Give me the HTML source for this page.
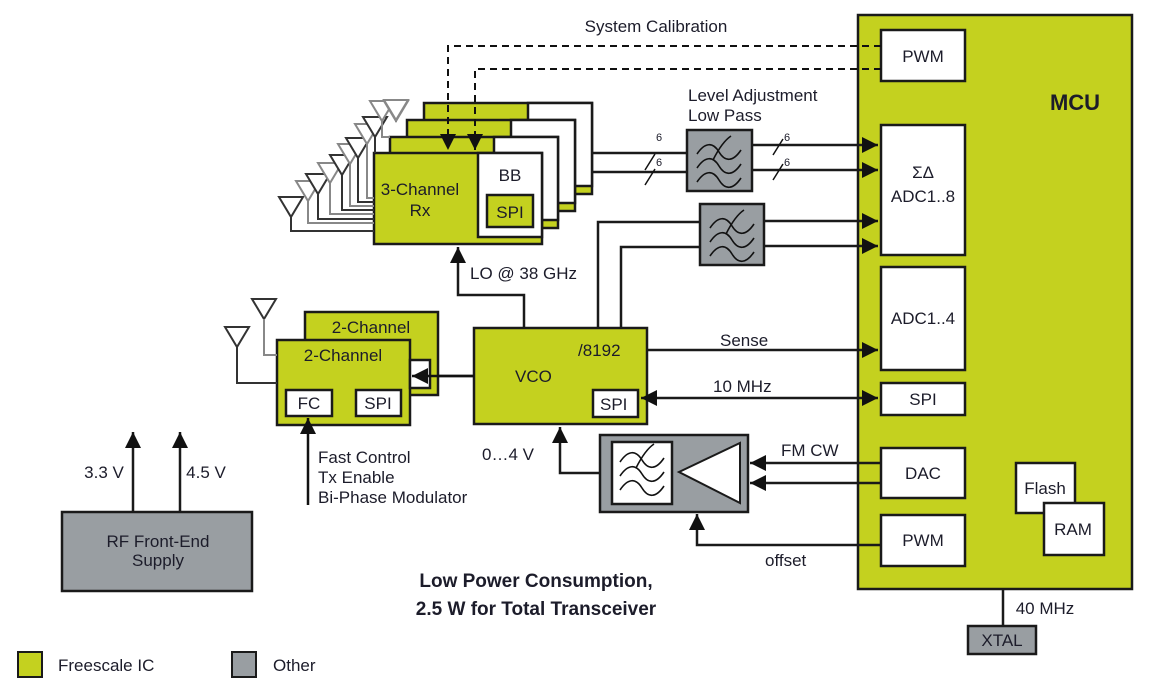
<!DOCTYPE html>
<html><head><meta charset="utf-8"><style>
html,body{margin:0;padding:0;background:#fff}
svg{display:block}
text{font-family:"Liberation Sans",Arial,sans-serif;fill:#1c1c2a}
</style></head><body>
<svg width="1150" height="692" viewBox="0 0 1150 692" xmlns="http://www.w3.org/2000/svg">
<defs>
<marker id="a" viewBox="0 0 10 10" refX="10" refY="5" markerWidth="7" markerHeight="7" orient="auto" markerUnits="userSpaceOnUse"><path d="M0,0L10,5L0,10z" fill="#111"/></marker>
<marker id="ar" viewBox="0 0 10 10" refX="10" refY="5" markerWidth="16" markerHeight="16" orient="auto-start-reverse" markerUnits="userSpaceOnUse"><path d="M0,0L10,5L0,10z" fill="#111"/></marker>
<g id="flt" fill="none" stroke="#111" stroke-width="1.6">
<path d="M-22,-8 C-14,-20 -6,-20 0,-10 C6,0 14,0 22,-12"/>
<path d="M-22,6 C-14,-6 -6,-6 0,4 C6,14 14,14 22,2"/>
<path d="M-22,20 C-14,8 -6,8 0,18 C6,28 14,28 22,16"/>
<path d="M-6,-2 C0,-14 6,-22 12,-26"/>
</g>
</defs>
<g stroke="#1a1a1a" stroke-width="2.5">
<!-- MCU -->
<rect x="858" y="15" width="274" height="574" fill="#c4d11f"/>
<rect x="881" y="30" width="84" height="51" fill="#fff"/>
<rect x="881" y="125" width="84" height="130" fill="#fff"/>
<rect x="881" y="267" width="84" height="103" fill="#fff"/>
<rect x="881" y="383" width="84" height="32" fill="#fff"/>
<rect x="881" y="448" width="84" height="50" fill="#fff"/>
<rect x="881" y="515" width="84" height="51" fill="#fff"/>
<rect x="1016" y="463" width="59" height="50" fill="#fff"/>
<rect x="1044" y="503" width="60" height="52" fill="#fff"/>
<rect x="968" y="626" width="68" height="28" fill="#999ea2"/>
<line x1="1003" y1="589" x2="1003" y2="626"/>
</g>
<g font-size="17" text-anchor="middle">
<text x="1075" y="110" font-weight="bold" font-size="22">MCU</text>
<text x="923" y="62">PWM</text>
<text x="923" y="178">ΣΔ</text>
<text x="923" y="202">ADC1..8</text>
<text x="923" y="324">ADC1..4</text>
<text x="923" y="405">SPI</text>
<text x="923" y="479">DAC</text>
<text x="923" y="546">PWM</text>
<text x="1045" y="494">Flash</text>
<text x="1073" y="535">RAM</text>
<text x="1002" y="646">XTAL</text>
<text x="1045" y="614">40 MHz</text>
</g>
<!-- Rx stack -->
<g stroke="#1a1a1a" stroke-width="2.5">
<rect x="424" y="103" width="168" height="91" fill="#c4d11f"/><rect x="528" y="103" width="64" height="83" fill="#fff"/><rect x="548" y="145" width="18" height="32" fill="#c4d11f" stroke-width="2"/>
<rect x="407" y="120" width="168" height="91" fill="#c4d11f"/><rect x="511" y="120" width="64" height="83" fill="#fff"/><rect x="531" y="162" width="18" height="32" fill="#c4d11f" stroke-width="2"/>
<rect x="390" y="137" width="168" height="91" fill="#c4d11f"/><rect x="494" y="137" width="64" height="83" fill="#fff"/><rect x="514" y="179" width="18" height="32" fill="#c4d11f" stroke-width="2"/>
<rect x="374" y="153" width="168" height="91" fill="#c4d11f"/><rect x="478" y="153" width="64" height="84" fill="#fff"/><rect x="487" y="195" width="46" height="32" fill="#c4d11f"/>
</g>
<g font-size="17" text-anchor="middle">
<text x="420" y="195">3-Channel</text><text x="420" y="216">Rx</text>
<text x="510" y="181">BB</text><text x="510" y="218">SPI</text>
</g>
<!-- antennas -->
<g fill="#fff" stroke-width="2">
<g stroke="#333"><path d="M279,197h24l-12,20z"/><path d="M291,217v14h83" fill="none"/></g>
<g stroke="#888"><path d="M296,181h24l-12,20z"/><path d="M308,201v22h66" fill="none"/></g>
<g stroke="#333"><path d="M306,174h24l-12,20z"/><path d="M318,194v25h56" fill="none"/></g>
<g stroke="#888"><path d="M318,163h24l-12,20z"/><path d="M330,183v31h44" fill="none"/></g>
<g stroke="#333"><path d="M330,155h24l-12,20z"/><path d="M342,175v35h32" fill="none"/></g>
<g stroke="#888"><path d="M338,144h24l-12,20z"/><path d="M350,164v42h24" fill="none"/></g>
<g stroke="#333"><path d="M346,138h24l-12,20z"/><path d="M358,158v44h16" fill="none"/></g>
<g stroke="#888"><path d="M355,124h24l-12,20z"/><path d="M367,144v54h7" fill="none"/></g>
<g stroke="#333"><path d="M363,117h24l-12,20z"/><path d="M375,137v16" fill="none"/></g>
<g stroke="#888"><path d="M370,101h24l-12,20z"/><path d="M382,121v16h8" fill="none"/></g>
<g stroke="#333"><path d="M384,101h24l-12,20z" stroke="#888"/><path d="M396,121v-0" fill="none"/></g>
<g stroke="#888"><path d="M384,100h24l-12,20z"/><path d="M396,120v2" fill="none"/></g>
</g>
<!-- dashed calibration -->
<g fill="none" stroke="#111" stroke-width="2" stroke-dasharray="7,5">
<path d="M881,46H448V150" marker-end="url(#ar)"/>
<path d="M881,69H475V150" marker-end="url(#ar)"/>
</g>
<text x="656" y="32" font-size="17" text-anchor="middle">System Calibration</text>
<!-- filters -->
<g stroke="#1a1a1a" stroke-width="2.5" fill="none">
<path d="M592,153H687M592,172H687"/>
<path d="M752,145H878" marker-end="url(#ar)"/><path d="M752,170H878" marker-end="url(#ar)"/>
<path d="M598,328V222H700M621,328V247H700"/>
<path d="M764,221H878" marker-end="url(#ar)"/><path d="M764,246H878" marker-end="url(#ar)"/>
<rect x="687" y="130" width="65" height="61" fill="#999ea2"/>
<rect x="700" y="204" width="64" height="61" fill="#999ea2"/>
</g>
<use href="#flt" x="719" y="162"/><use href="#flt" x="732" y="236"/>
<g stroke="#111" stroke-width="1.5"><path d="M645,170l10,-16M645,185l10,-16M773,155l10,-16M773,180l10,-16"/></g>
<g font-size="11" fill="#335"><text x="656" y="141">6</text><text x="656" y="166">6</text><text x="784" y="141">6</text><text x="784" y="166">6</text></g>
<g font-size="17"><text x="688" y="101">Level Adjustment</text><text x="688" y="121">Low Pass</text></g>
<!-- VCO -->
<g stroke="#1a1a1a" stroke-width="2.5" fill="none">
<path d="M524,328V295H458V247" marker-end="url(#ar)"/>
<rect x="474" y="328" width="173" height="96" fill="#c4d11f"/>
<rect x="593" y="390" width="45" height="27" fill="#fff"/>
<path d="M647,350H878" marker-end="url(#ar)"/>
<path d="M641,398H878" marker-start="url(#ar)" marker-end="url(#ar)"/>
<path d="M474,376H412" marker-end="url(#ar)"/>
</g>
<g font-size="17">
<text x="470" y="279">LO @ 38 GHz</text>
<text x="578" y="356">/8192</text>
<text x="515" y="382">VCO</text>
<text x="600" y="410">SPI</text>
<text x="720" y="346">Sense</text>
<text x="713" y="392">10 MHz</text>
<text x="482" y="460">0…4 V</text>
<text x="781" y="456">FM CW</text>
<text x="765" y="566">offset</text>
</g>
<!-- 2-Channel -->
<g stroke="#1a1a1a" stroke-width="2.5">
<rect x="305" y="312" width="133" height="83" fill="#c4d11f"/>
<rect x="277" y="340" width="133" height="85" fill="#c4d11f"/>
<rect x="410" y="360" width="20" height="28" fill="#fff"/>
<rect x="286" y="390" width="46" height="26" fill="#fff"/>
<rect x="356" y="390" width="45" height="26" fill="#fff"/>
</g>
<path d="M474,376H412" stroke="#111" stroke-width="2.5" fill="none" marker-end="url(#ar)"/>
<g fill="#fff" stroke-width="2">
<g stroke="#333"><path d="M225,327h24l-12,20z"/><path d="M237,347v36h40" fill="none"/></g>
<g stroke="#333"><path d="M252,299h24l-12,20z"/><path d="M264,319v36h13" fill="none" stroke="#888"/></g>
</g>
<g font-size="17" text-anchor="middle">
<text x="371" y="333">2-Channel</text><text x="343" y="361">2-Channel</text>
<text x="309" y="409">FC</text><text x="378" y="409">SPI</text>
</g>
<path d="M308,505V418" stroke="#111" stroke-width="2.5" marker-end="url(#ar)"/>
<g font-size="17"><text x="318" y="463">Fast Control</text><text x="318" y="483">Tx Enable</text><text x="318" y="503">Bi-Phase Modulator</text></g>
<!-- amp -->
<g stroke="#1a1a1a" stroke-width="2.5" fill="none">
<path d="M600,473H560V427" marker-end="url(#ar)"/>
<rect x="600" y="435" width="148" height="77" fill="#999ea2"/>
<rect x="612" y="442" width="60" height="62" fill="#fff"/>
<path d="M679,472L740,443V503z" fill="#fff" stroke-width="2"/>
<path d="M881,463H750" marker-end="url(#ar)"/><path d="M881,483H750" marker-end="url(#ar)"/>
<path d="M881,545H697V514" marker-end="url(#ar)"/>
</g>
<use href="#flt" x="642" y="470"/>
<!-- supply -->
<g stroke="#1a1a1a" stroke-width="2.5" fill="none">
<rect x="62" y="512" width="190" height="79" fill="#999ea2"/>
<path d="M133,512V432" marker-end="url(#ar)"/><path d="M180,512V432" marker-end="url(#ar)"/>
</g>
<g font-size="17" text-anchor="middle">
<text x="158" y="547">RF Front-End</text><text x="158" y="566">Supply</text>
<text x="104" y="478">3.3 V</text><text x="206" y="478">4.5 V</text>
<text x="536" y="587" font-weight="bold" font-size="19">Low Power Consumption,</text>
<text x="536" y="615" font-weight="bold" font-size="19">2.5 W for Total Transceiver</text>
</g>
<!-- legend -->
<rect x="18" y="652" width="24" height="25" fill="#c4d11f" stroke="#1a1a1a" stroke-width="2"/>
<rect x="232" y="652" width="24" height="25" fill="#999ea2" stroke="#1a1a1a" stroke-width="2"/>
<text x="58" y="671" font-size="17">Freescale IC</text>
<text x="273" y="671" font-size="17">Other</text>
</svg>
</body></html>
